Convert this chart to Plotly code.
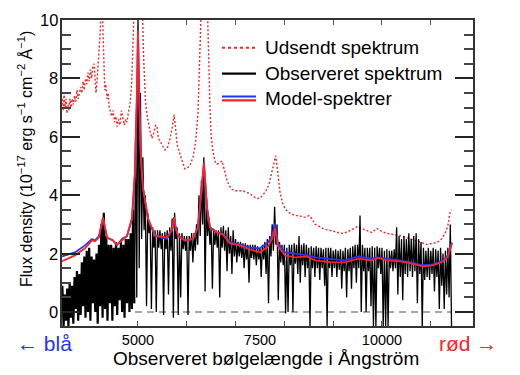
import plotly.graph_objects as go

# ---------------- data ----------------
# Observed spectrum: per 50 Å bin, the upper and lower flux reached by the noisy trace
obs_wave = list(range(3450, 11401, 50))  # 160 bins
obs_hi = [
    0.9, 0.6, 0.8, 1.0, 0.9, 1.2, 1.4, 1.3, 1.7, 1.9,
    2.1, 2.2, 1.9, 1.8, 2.0, 2.3, 3.0, 3.4, 2.6, 2.3,
    2.3, 2.2, 2.4, 2.2, 2.4, 2.3, 2.5, 2.5, 2.7, 3.5,
    6.0, 10.5, 7.5, 5.3, 4.0, 3.4, 3.0, 2.9, 2.8, 2.8,
    2.8, 2.7, 2.75, 2.8, 2.9, 3.2, 3.4, 2.9, 2.7, 2.7,
    2.6, 2.6, 2.6, 2.7, 2.7, 3.0, 4.0, 4.5, 5.3, 4.0,
    3.2, 2.9, 2.85, 2.8, 2.8, 2.9, 2.95, 2.8, 2.9, 2.6,
    2.8, 2.5, 2.4, 2.4, 2.35, 2.35, 2.3, 2.3, 2.3, 2.3,
    2.25, 2.2, 2.3, 2.4, 2.5, 2.6, 3.0, 3.6, 3.0, 2.4,
    2.3, 2.3, 2.2, 2.3, 2.3, 2.35, 2.3, 2.6, 2.3, 2.35,
    2.3, 2.2, 2.25, 2.2, 2.25, 2.2, 2.2, 2.15, 2.2, 2.2,
    2.2, 2.1, 2.15, 2.1, 2.15, 2.1, 2.2, 2.15, 2.2, 2.25,
    2.3, 2.3, 3.3, 2.3, 2.2, 2.2, 2.2, 2.25, 2.2, 2.25,
    2.2, 2.2, 2.1, 2.15, 2.1, 2.1, 2.15, 2.9, 2.6, 2.5,
    2.6, 2.5, 2.7, 2.5, 2.6, 2.7, 2.5, 2.4, 2.2, 2.1,
    2.2, 2.1, 2.2, 2.15, 2.1, 2.2, 2.0, 2.1, 2.2, 3.0,
]
obs_lo = [
    -0.5, -0.3, -0.5, -0.2, -0.4, 0.1, -0.3, -0.1, 0.2, -0.2,
    0.0, -0.3, 0.3, 0.0, -0.4, 0.2, -0.2, 0.1, -0.3, 0.3,
    -0.3, 0.2, -0.1, 0.4, 0.0, -0.2, 0.3, 0.0, 0.1, 0.3,
    0.5, 1.5, 2.5, 2.8, 0.2, 2.7, 0.1, 2.2, 0.0, 2.2,
    2.15, -0.1, 2.15, 0.6, 2.1, -0.2, 2.5, -0.1, 0.5, 2.15,
    2.1, -0.1, 2.1, 1.7, 2.1, 2.3, 2.6, 3.0, 0.7, 2.6,
    2.3, 0.8, 2.3, 2.2, 0.5, 2.2, 2.1, 1.4, 2.0, 1.3,
    1.9, 1.7, 1.9, 1.85, 1.5, 1.8, 1.0, 1.85, 1.8, 1.6,
    1.8, 1.2, 1.8, 1.3, 0.3, 1.9, 2.1, 2.3, 0.4, 1.7,
    1.6, -0.05, 0.0, 1.6, 0.0, 1.65, 1.3, 1.0, 1.6, 1.2,
    1.5, -0.5, 1.5, 1.2, 1.5, 1.1, 1.5, 0.9, -0.5, 1.5,
    1.2, 1.5, 1.2, 1.45, 0.8, 1.4, 0.5, 1.4, 0.8, 1.5,
    1.0, 1.5, 0.0, 1.4, 0.0, 1.4, 0.2, -0.5, -0.5, 1.5,
    1.3, -0.5, -0.5, -0.5, 1.5, 1.4, 1.5, 0.6, 1.2, 0.4,
    1.3, 1.2, 1.4, 1.2, 1.4, 0.3, 1.3, -0.5, 1.1, 1.2,
    1.1, 1.3, 0.7, 1.2, 0.1, 0.9, 0.1, 0.6, 0.5, -0.5,
]
forest_end = 4950  # blueward of this the observed spectrum is the dense Lyman-alpha forest

# Model spectra (blue and red)
model_wave = [3443, 3709, 3914, 4057, 4119, 4200, 4283, 4365, 4488, 4570, 4672, 4775,
              4877, 4939, 4980, 5000, 5030, 5061, 5102, 5205, 5348, 5451, 5594, 5700,
              5738, 5780, 5820, 5963, 6127, 6229, 6311, 6352, 6414, 6475, 6619, 6742,
              6885, 7090, 7295, 7500, 7664, 7746, 7807, 7869, 8012, 8217, 8463, 8627,
              8975, 9241, 9508, 9795, 9918, 10102, 10368, 10573, 10840, 11045, 11250,
              11352, 11434]
model_blue = [1.90, 2.04, 2.28, 2.50, 2.45, 2.60, 3.20, 2.55, 2.45, 2.28, 2.50, 2.60,
              3.20, 4.80, 7.50, 9.60, 7.00, 5.20, 4.25, 3.20, 2.60, 2.55, 2.50, 2.80,
              3.20, 2.80, 2.60, 2.45, 2.50, 2.90, 4.25, 5.10, 3.57, 2.90, 2.72, 2.68,
              2.38, 2.31, 2.21, 2.18, 2.38, 2.60, 3.03, 2.35, 2.04, 2.00, 1.95, 1.87,
              1.80, 1.77, 1.90, 1.83, 1.87, 1.83, 1.77, 1.70, 1.60, 1.63, 1.77,
              1.94, 2.38]
model_red = [1.74, 1.94, 2.18, 2.45, 2.42, 2.55, 3.25, 2.55, 2.45, 2.30, 2.45, 2.60,
             3.20, 4.80, 7.60, 9.65, 7.00, 5.20, 4.25, 3.20, 2.62, 2.60, 2.55, 2.85,
             3.25, 2.85, 2.62, 2.45, 2.50, 2.90, 4.25, 5.10, 3.57, 2.90, 2.72, 2.65,
             2.35, 2.28, 2.14, 2.04, 2.24, 2.50, 2.86, 2.25, 1.94, 1.87, 1.90, 1.77,
             1.70, 1.70, 1.83, 1.77, 1.85, 1.77, 1.73, 1.67, 1.56, 1.60, 1.73,
             1.90, 2.35]

# Emitted (intrinsic) spectrum, red dotted
emit_wave = [3445, 3465, 3485, 3505, 3525, 3545, 3565, 3585, 3605, 3625, 3650, 3675,
             3700, 3725, 3750, 3775, 3800, 3825, 3850, 3875, 3900, 3925, 3950, 3975,
             4000, 4025, 4050, 4075, 4100, 4120, 4140, 4160, 4180, 4200, 4220, 4240,
             4255, 4270, 4285, 4300, 4320, 4340, 4365, 4390, 4410, 4430, 4460, 4490,
             4520, 4550, 4570, 4600, 4630, 4660, 4690, 4720, 4750, 4775, 4800, 4836,
             4870, 4900, 4925, 5000, 5090, 5110, 5130, 5150, 5180, 5210, 5246, 5287,
             5320, 5360, 5389, 5420, 5451, 5500, 5550, 5600, 5650, 5700, 5740, 5770,
             5800, 5861, 5920, 5960, 6004, 6060, 6127, 6180, 6229, 6270, 6300, 6420,
             6445, 6475, 6500, 6537, 6580, 6619, 6670, 6721, 6780, 6824, 6880, 6926,
             7000, 7080, 7151, 7220, 7295, 7370, 7438, 7500, 7560, 7620, 7680, 7730,
             7780, 7820, 7850, 7880, 7910, 7960, 8012, 8080, 8150, 8217, 8300, 8380,
             8450, 8500, 8560, 8630, 8688, 8800, 8900, 8975, 9100, 9200, 9300, 9400,
             9508, 9600, 9700, 9795, 9850, 9897, 10000, 10102, 10250, 10368, 10500,
             10635, 10780, 10922, 11030, 11127, 11220, 11291, 11350, 11393, 11425]
emit_flux = [7.3, 6.9, 7.5, 7.0, 7.3, 6.8, 7.1, 6.9, 7.3, 7.0, 7.3, 7.1,
             7.4, 7.2, 7.6, 7.3, 7.5, 7.7, 7.5, 7.9, 7.6, 8.0, 7.8, 8.2,
             7.9, 8.3, 8.0, 8.4, 8.5, 7.9, 7.5, 7.9, 8.3, 8.8, 9.4, 10.2,
             10.6, 10.6, 9.5, 8.2, 7.6, 7.8, 7.3, 7.5, 7.0, 6.9, 6.7, 6.9,
             6.5, 6.7, 6.35, 6.6, 6.4, 6.9, 6.6, 6.4, 6.6, 6.5, 6.8, 7.1,
             7.8, 9.2, 10.6, 12.0, 10.6, 9.0, 8.0, 7.3, 6.8, 6.5, 6.2, 5.95,
             6.1, 6.4, 6.35, 5.95, 5.85, 5.7, 5.55, 5.6, 5.9, 6.3, 6.75, 6.3,
             5.75, 5.4, 5.05, 4.9, 4.93, 5.0, 5.3, 5.8, 6.8, 8.6, 10.6, 10.6,
             8.5, 7.0, 6.0, 5.5, 5.15, 5.06, 5.1, 5.17, 4.8, 4.5, 4.3, 4.2,
             4.15, 4.15, 4.15, 4.1, 4.05, 3.95, 3.88, 3.9, 4.0, 4.15, 4.35, 4.7,
             5.1, 5.35, 5.0, 4.5, 4.1, 3.75, 3.54, 3.42, 3.35, 3.3, 3.3, 3.25,
             3.25, 3.3, 3.2, 3.0, 2.96, 2.85, 2.8, 2.78, 2.72, 2.69, 2.75, 2.85,
             2.93, 2.85, 2.78, 2.72, 2.8, 2.86, 2.75, 2.69, 2.65, 2.62, 2.55,
             2.48, 2.38, 2.31, 2.35, 2.38, 2.5, 2.69, 2.95, 3.4, 3.5]

# Zero level (dashed)
zero_wave = [4940, 11420]
zero_flux = [0, 0]

# Axis ticks
x_tick_vals = [5000, 7500, 10000]
x_tick_text = ["5000", "7500", "10000"]
x_minor_vals = [5000, 6000, 7000, 8000, 9000, 10000, 11000]
y_tick_vals = [0, 2, 4, 6, 8, 10]
y_tick_text = ["0", "2", "4", "6", "8", "10"]

# Texts
legend_labels = ["Udsendt spektrum", "Observeret spektrum", "Model-spektrer"]
x_title = "Observeret bølgelængde i Ångström"
y_title = "Flux density (10<sup>−17</sup> erg s<sup>−1</sup> cm<sup>−2</sup> Å<sup>−1</sup>)"
blue_label = "← blå"
red_label = "rød →"

# ---------------- figure ----------------
FONT = "Liberation Sans, Arial, Helvetica, sans-serif"
BLUE = "#2233ff"
RED = "#ff2222"
HALF_BIN = 25  # observed trace zig-zags between bin top and bin bottom

forest_x, forest_y, obs_x, obs_y = [], [], [], []
for w, h, l in zip(obs_wave, obs_hi, obs_lo):
    if w < forest_end:
        forest_x += [w, w + HALF_BIN]
        forest_y += [h, l]
    else:
        if not obs_x and forest_x:
            obs_x.append(forest_x[-1])
            obs_y.append(forest_y[-1])
        obs_x += [w, w + HALF_BIN]
        obs_y += [h, l]

fig = go.Figure()
fig.add_trace(go.Scatter(x=zero_wave, y=zero_flux, mode="lines",
                         line=dict(color="#8a8a8a", width=1.6, dash="7px,5px"),
                         hoverinfo="skip", showlegend=False))
fig.add_trace(go.Scatter(x=emit_wave, y=emit_flux, mode="lines",
                         line=dict(color=RED, width=1.4, dash="2px,2px"),
                         showlegend=False))
fig.add_trace(go.Scatter(x=forest_x, y=forest_y, mode="lines",
                         line=dict(color="black", width=2.2),
                         showlegend=False))
fig.add_trace(go.Scatter(x=obs_x, y=obs_y, mode="lines",
                         line=dict(color="black", width=1.3),
                         showlegend=False))
fig.add_trace(go.Scatter(x=model_wave, y=model_blue, mode="lines",
                         line=dict(color=BLUE, width=1.8),
                         showlegend=False))
fig.add_trace(go.Scatter(x=model_wave, y=model_red, mode="lines",
                         line=dict(color=RED, width=1.8),
                         showlegend=False))

# The page adds an 8px body margin, so the figure is 8px smaller than the window.
# Plot area (in window pixels): x 62..473, y 18..326.
def px2paper(px, py):
    return (px - 62) / 411, (326 - py) / 308

shapes = []
annotations = []
leg_rows = [(46, "dot"), (72, "solid"), (97, "double")]
for (py, kind), label in zip(leg_rows, legend_labels):
    x0, y0 = px2paper(222, py)
    x1, _ = px2paper(256, py)
    if kind == "dot":
        shapes.append(dict(type="line", xref="paper", yref="paper", x0=x0, x1=x1, y0=y0, y1=y0,
                           line=dict(color=RED, width=2, dash="3px,3px")))
    elif kind == "solid":
        shapes.append(dict(type="line", xref="paper", yref="paper", x0=x0, x1=x1, y0=y0, y1=y0,
                           line=dict(color="black", width=2.2)))
    else:
        _, yb = px2paper(0, py - 2)
        _, yr = px2paper(0, py + 2)
        shapes.append(dict(type="line", xref="paper", yref="paper", x0=x0, x1=x1, y0=yb, y1=yb,
                           line=dict(color=BLUE, width=2.2)))
        shapes.append(dict(type="line", xref="paper", yref="paper", x0=x0, x1=x1, y0=yr, y1=yr,
                           line=dict(color=RED, width=2.2)))
    tx, ty = px2paper(263, py)
    annotations.append(dict(text=label, xref="paper", yref="paper", x=tx, y=ty,
                            xanchor="left", yanchor="middle", showarrow=False,
                            font=dict(size=19, color="black", family=FONT)))

# y tick labels, right next to the axis line
for v, t in zip(y_tick_vals, y_tick_text):
    annotations.append(dict(text=t, xref="paper", yref="y", x=0, y=v,
                            xanchor="right", yanchor="middle", xshift=-2, showarrow=False,
                            font=dict(size=16.5, color="black", family=FONT)))

ax, ay = px2paper(266, 359)
annotations.append(dict(text=x_title, xref="paper", yref="paper", x=ax, y=ay,
                        xanchor="center", yanchor="middle", showarrow=False,
                        font=dict(size=19, color="black", family=FONT)))
ax, ay = px2paper(25, 158)
annotations.append(dict(text=y_title, xref="paper", yref="paper", x=ax, y=ay,
                        xanchor="center", yanchor="middle", showarrow=False, textangle=-90,
                        font=dict(size=16, color="black", family=FONT)))
ax, ay = px2paper(74, 344)
annotations.append(dict(text=blue_label, xref="paper", yref="paper", x=ax, y=ay,
                        xanchor="right", yanchor="middle", showarrow=False,
                        font=dict(size=21, color=BLUE, family=FONT)))
ax, ay = px2paper(437, 344)
annotations.append(dict(text=red_label, xref="paper", yref="paper", x=ax, y=ay,
                        xanchor="left", yanchor="middle", showarrow=False,
                        font=dict(size=21, color=RED, family=FONT)))

fig.update_layout(
    width=512, height=367,
    margin=dict(l=54, r=47, t=10, b=49),
    paper_bgcolor="white", plot_bgcolor="white",
    font=dict(family=FONT, color="black"),
    showlegend=False,
    shapes=shapes, annotations=annotations,
    hovermode=False,
)
fig.update_xaxes(
    range=[3443, 11865], showgrid=False, zeroline=False,
    showline=True, linecolor="#333333", linewidth=1.5, mirror="ticks",
    tickmode="array", tickvals=x_tick_vals, ticktext=x_tick_text,
    ticks="inside", ticklen=0, tickfont=dict(size=14.5, family=FONT),
    minor=dict(tickmode="array", tickvals=x_minor_vals, ticks="inside",
               ticklen=5, tickwidth=1.2, tickcolor="#555555"),
)
fig.update_yaxes(
    range=[-0.48, 10], showgrid=False, zeroline=False,
    showline=True, linecolor="#333333", linewidth=1.5, mirror="ticks",
    tickmode="array", tickvals=y_tick_vals, showticklabels=False,
    ticks="inside", ticklen=18, tickwidth=1.5, tickcolor="#222222",
    minor=dict(dtick=0.5, ticks="inside", ticklen=9, tickwidth=1.5, tickcolor="#444444"),
)

fig.write_html("out.html", config={"displayModeBar": False})
